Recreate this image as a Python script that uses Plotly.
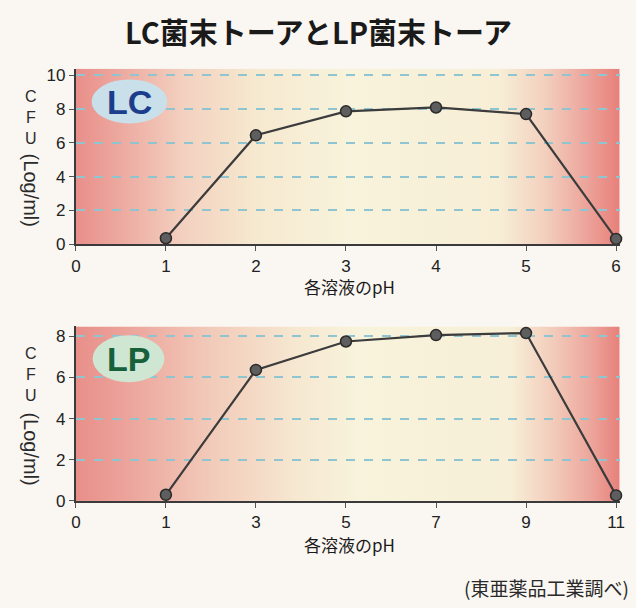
import base64
import plotly.graph_objects as go

# ---- data ----
lc_ph = [1, 2, 3, 4, 5, 6]
lc_cfu = [0.35, 6.45, 7.87, 8.1, 7.71, 0.31]
lc_ticks = [0, 1, 2, 3, 4, 5, 6]

lp_ph = ["1", "3", "5", "7", "9", "11"]
lp_cfu = [0.3, 6.36, 7.74, 8.05, 8.15, 0.27]
lp_ticks = ["0", "1", "3", "5", "7", "9", "11"]

title_text = "LC菌末トーアとLP菌末トーア"
x_title = "各溶液のpH"
source_text = "(東亜薬品工業調べ)"

W, H = 636, 608
BG = "#faf7f2"
FONT = "Liberation Sans, Arial, sans-serif"
JP = "Noto Sans CJK JP, sans-serif"


def px(x):
    return x / W


def py(y):
    return 1 - y / H


def grad_svg(stops):
    s = "".join(
        f'<stop offset="{o}" stop-color="{c}"/>' for o, c in stops
    )
    svg = (
        '<svg xmlns="http://www.w3.org/2000/svg" width="100" height="100" '
        'viewBox="0 0 100 100" preserveAspectRatio="none"><defs>'
        '<linearGradient id="g" x1="0" y1="0" x2="1" y2="0">'
        f"{s}</linearGradient></defs>"
        '<rect width="100" height="100" fill="url(#g)"/></svg>'
    )
    return "data:image/svg+xml;base64," + base64.b64encode(svg.encode()).decode()


top_stops = [
    (0.0, "#e98f8a"), (0.07, "#eca59c"), (0.2, "#f3d1c0"), (0.33, "#f6e9cf"),
    (0.5, "#f8f3dc"), (0.78, "#f7eed5"), (0.86, "#f3d1bf"), (0.93, "#eda99f"),
    (1.0, "#e7807a"),
]
bot_stops = [
    (0.0, "#e98f8a"), (0.1, "#eca59c"), (0.25, "#f2cbba"), (0.4, "#f6e7d0"),
    (0.52, "#f8f3dc"), (0.8, "#f7efd7"), (0.88, "#f2cab9"), (0.95, "#eca49a"),
    (1.0, "#e7807a"),
]

fig = go.Figure()

line_style = dict(color="#3c3c3c", width=2.2)
marker_style = dict(size=11, color="#5e5e5e", line=dict(color="#2a2a2a", width=1.5))

fig.add_trace(go.Scatter(
    x=lc_ph, y=lc_cfu, mode="lines+markers", line=line_style,
    marker=marker_style, xaxis="x", yaxis="y", cliponaxis=False,
    showlegend=False, hoverinfo="x+y",
))
fig.add_trace(go.Scatter(
    x=lp_ph, y=lp_cfu, mode="lines+markers", line=line_style,
    marker=marker_style, xaxis="x2", yaxis="y2", cliponaxis=False,
    showlegend=False, hoverinfo="x+y",
))

xdom = [px(72), px(624.5)]
axis_common = dict(
    showline=True, linecolor="#3a3a3a", linewidth=2, ticks="outside",
    ticklen=5, tickcolor="#555", tickfont=dict(family=FONT, size=17, color="#222"),
    zeroline=False, fixedrange=True,
)
fig.update_layout(
    width=W, height=H, margin=dict(l=0, r=0, t=0, b=0),
    paper_bgcolor=BG, plot_bgcolor="rgba(0,0,0,0)",
    xaxis=dict(domain=xdom, anchor="y", range=[0, 6.04], tickvals=lc_ticks,
               showgrid=False, **axis_common),
    yaxis=dict(domain=[py(247), py(68)], anchor="x", range=[0, 10.4], dtick=2,
               showgrid=True, gridcolor="#8fc4d1", griddash="dash", gridwidth=1.5,
               **axis_common),
    xaxis2=dict(domain=xdom, anchor="y2", type="category",
                categoryorder="array", categoryarray=lp_ticks,
                range=[0, 6.04], showgrid=False, **axis_common),
    yaxis2=dict(domain=[py(509), py(331)], anchor="x2", range=[0, 8.47], dtick=2,
                showgrid=True, gridcolor="#8fc4d1", griddash="dash", gridwidth=1.5,
                **axis_common),
)

fig.update_layout(images=[
    dict(source=grad_svg(top_stops), xref="x domain", yref="y domain", x=0, y=1,
         sizex=1, sizey=1, xanchor="left", yanchor="top", sizing="stretch",
         layer="below"),
    dict(source=grad_svg(bot_stops), xref="x2 domain", yref="y2 domain", x=0, y=1,
         sizex=1, sizey=1, xanchor="left", yanchor="top", sizing="stretch",
         layer="below"),
])

# badge ellipses
fig.add_shape(type="circle", xref="paper", yref="paper",
              x0=px(88), x1=px(165), y0=py(124), y1=py(79),
              fillcolor="#c9e0ea", line=dict(width=0), layer="above")
fig.add_shape(type="circle", xref="paper", yref="paper",
              x0=px(89), x1=px(162), y0=py(388), y1=py(340),
              fillcolor="#cfe6d3", line=dict(width=0), layer="above")

ann = []
ann.append(dict(text=f"<b>{title_text}</b>", x=0.5, y=py(30), xref="paper",
                yref="paper", showarrow=False, xanchor="center", yanchor="middle",
                font=dict(family=JP, size=29, color="#1a1a1a")))
ann.append(dict(text="<b>LC</b>", x=px(126), y=py(102), xref="paper", yref="paper",
                showarrow=False, xanchor="center", yanchor="middle",
                font=dict(family=FONT, size=34, color="#1b3d8c")))
ann.append(dict(text="<b>LP</b>", x=px(125), y=py(364), xref="paper", yref="paper",
                showarrow=False, xanchor="center", yanchor="middle",
                font=dict(family=FONT, size=34, color="#16603a")))

# y-axis titles (upright CFU stacked + rotated (Log/ml))
for ytop, yrot in [(86, 192), (348, 456)]:
    ann.append(dict(text="C<br>F<br>U", x=px(26), y=py(ytop), xref="paper",
                    yref="paper", showarrow=False, xanchor="center",
                    yanchor="top", align="center",
                    font=dict(family=FONT, size=16, color="#2a2a2a")))
    ann.append(dict(text="(Log/ml)", x=px(26), y=py(yrot), xref="paper",
                    yref="paper", showarrow=False, xanchor="center",
                    yanchor="middle", textangle=90,
                    font=dict(family=FONT, size=20, color="#2a2a2a")))

# x titles
for yy in [290, 553]:
    ann.append(dict(text=x_title, x=px(350), y=py(yy), xref="paper", yref="paper",
                    showarrow=False, xanchor="center", yanchor="middle",
                    font=dict(family=JP, size=17, color="#1a1a1a")))

ann.append(dict(text=source_text, x=px(636), y=py(597), xref="paper", yref="paper",
                showarrow=False, xanchor="right", yanchor="middle",
                font=dict(family=JP, size=19, color="#2a2a2a")))

fig.update_layout(annotations=ann)

fig.write_html(
    "out.html",
    config={"displayModeBar": False},
    post_script="document.body.style.margin='0';document.body.style.overflow='hidden';",
)
